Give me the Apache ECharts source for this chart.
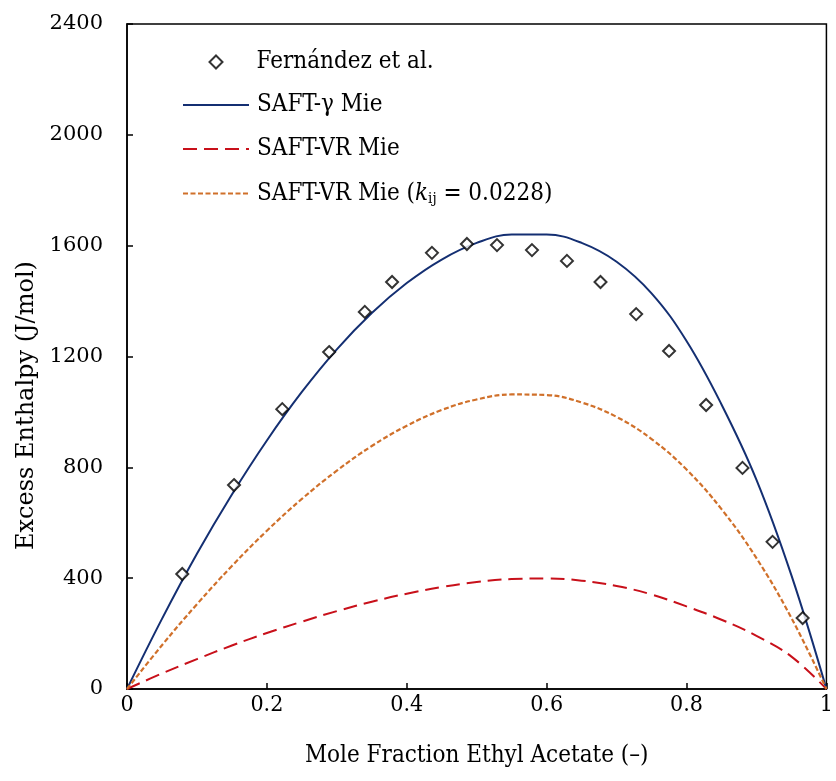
<!DOCTYPE html>
<html>
<head>
<meta charset="utf-8">
<script src="https://cdn.jsdelivr.net/npm/echarts@6/dist/echarts.min.js"></script>
<style>
html,body{margin:0;padding:0;background:#fff;}
#chart{width:836px;height:781px;}
</style>
</head>
<body>
<div id="chart"></div>
<script>
// ---- data ----
const expX = [0.079, 0.153, 0.222, 0.289, 0.340, 0.379, 0.436, 0.486, 0.529, 0.579, 0.629, 0.677, 0.728, 0.775, 0.828, 0.880, 0.923, 0.966];
const expH = [415, 736, 1010, 1216, 1361, 1469, 1574, 1606, 1602, 1584, 1545, 1469, 1353, 1220, 1025, 798, 531, 256];

const curveX = [0, 0.05, 0.1, 0.15, 0.2, 0.25, 0.3, 0.35, 0.4, 0.45, 0.5, 0.55, 0.6, 0.65, 0.7, 0.75, 0.8, 0.85, 0.9, 0.95, 1];
const gammaMie = [0, 253, 488, 702, 897, 1072, 1226, 1357, 1465, 1550, 1610, 1640, 1640, 1610, 1542, 1428, 1256, 1027, 755, 410, 0];
const vrMie = [0, 56, 108, 157, 202, 243, 281, 315, 344, 368, 386, 397, 399, 391, 372, 341, 298, 250, 192, 117, 0];
const vrMieKij = [0, 158, 306, 444, 571, 686, 788, 877, 950, 1007, 1045, 1063, 1061, 1034, 982, 902, 792, 649, 472, 256, 0];

const xTicks = [0, 0.2, 0.4, 0.6, 0.8, 1];
const yTicks = [0, 400, 800, 1200, 1600, 2000, 2400];

const names = ['Fernández et al.', 'SAFT-γ Mie', 'SAFT-VR Mie', 'SAFT-VR Mie (kij = 0.0228)'];

function pairs(xs, ys) { return xs.map((x, i) => [x, ys[i]]); }

const serif = 'DejaVu Serif';
const serifC = 'DejaVu Serif Condensed';

const chart = echarts.init(document.getElementById('chart'), null, {renderer: 'canvas'});

function legendAt(name, top, extra) {
  return Object.assign({
    data: [name],
    orient: 'vertical',
    left: 182,
    top: top,
    padding: 0,
    itemWidth: 66,
    itemHeight: 14,
    itemGap: 0,
    selectedMode: false,
    itemStyle: {opacity: 0},
    textStyle: {fontFamily: serifC, fontSize: 24, lineHeight: 26, color: '#000', padding: [0, 0, 0, 3]}
  }, extra || {});
}

chart.setOption({
  animation: false,
  backgroundColor: '#fff',
  grid: {left: 127, right: 9, top: 24, bottom: 92, show: true, borderColor: '#000', borderWidth: 1.5, backgroundColor: 'transparent'},
  legend: [
    legendAt(names[0], 49, {left: 208.5, itemWidth: 13, itemHeight: 13, itemStyle: {},
      textStyle: {fontFamily: serifC, fontSize: 24, lineHeight: 26, color: '#000', padding: [0, 0, 0, 29]}}),
    legendAt(names[1], 92),
    legendAt(names[2], 136),
    legendAt(names[3], 180, {
      formatter: function () { return '{n|SAFT-VR Mie (}{i|k}{s|ij}{n| = 0.0228)}'; },
      textStyle: {
        fontFamily: serifC, fontSize: 24, lineHeight: 26, color: '#000', padding: [0, 0, 0, 3],
        rich: {
          n: {fontFamily: serifC, fontSize: 24, lineHeight: 26, color: '#000'},
          i: {fontFamily: serifC, fontSize: 24, lineHeight: 26, fontStyle: 'italic', color: '#000'},
          s: {fontFamily: serifC, fontSize: 15, lineHeight: 26, color: '#000', padding: [12, 0, 0, 0]}
        }
      }
    })
  ],
  xAxis: {
    type: 'value', min: 0, max: 1, interval: 0.2,
    name: 'Mole Fraction Ethyl Acetate (–)',
    nameLocation: 'middle', nameGap: 55,
    nameTextStyle: {fontFamily: serifC, fontSize: 24, color: '#000'},
    axisLine: {show: true, onZero: false, lineStyle: {color: '#000', width: 1.5}},
    axisTick: {show: true, inside: true, length: 6, lineStyle: {color: '#000', width: 1.5}},
    axisLabel: {fontFamily: serifC, fontSize: 23, color: '#000', margin: 5,
      formatter: v => (xTicks.indexOf(Math.round(v * 10) / 10) >= 0 ? String(Math.round(v * 10) / 10) : '')},
    splitLine: {show: false}
  },
  yAxis: {
    type: 'value', min: 0, max: 2400, interval: 400,
    name: 'Excess Enthalpy (J/mol)',
    nameLocation: 'middle', nameGap: 86,
    nameTextStyle: {fontFamily: serif, fontSize: 24, color: '#000', padding: [0, 98, 0, 0]},
    axisLine: {show: true, lineStyle: {color: '#000', width: 1.5}},
    axisTick: {show: true, inside: true, length: 6, lineStyle: {color: '#000', width: 1.5}},
    axisLabel: {fontFamily: serif, fontSize: 21, color: '#000', margin: 24,
      formatter: v => (yTicks.indexOf(v) >= 0 ? String(v) : '')},
    splitLine: {show: false}
  },
  series: [
    {
      name: names[0], type: 'scatter', symbol: 'diamond', symbolSize: 12,
      itemStyle: {color: '#fff', borderColor: '#000', borderWidth: 2},
      data: pairs(expX, expH), z: 5
    },
    {
      name: names[1], type: 'line', showSymbol: false, symbol: 'none', smooth: 0.4,
      lineStyle: {color: '#142f72', width: 2},
      itemStyle: {color: '#142f72'},
      data: pairs(curveX, gammaMie)
    },
    {
      name: names[2], type: 'line', showSymbol: false, symbol: 'none', smooth: 0.4,
      lineStyle: {color: '#c8101a', width: 2, type: [14, 7]},
      itemStyle: {color: '#c8101a'},
      data: pairs(curveX, vrMie)
    },
    {
      name: names[3], type: 'line', showSymbol: false, symbol: 'none', smooth: 0.4,
      lineStyle: {color: '#d0702a', width: 2.2, type: [5, 2.5]},
      itemStyle: {color: '#d0702a'},
      data: pairs(curveX, vrMieKij)
    }
  ]
});
</script>
</body>
</html>
